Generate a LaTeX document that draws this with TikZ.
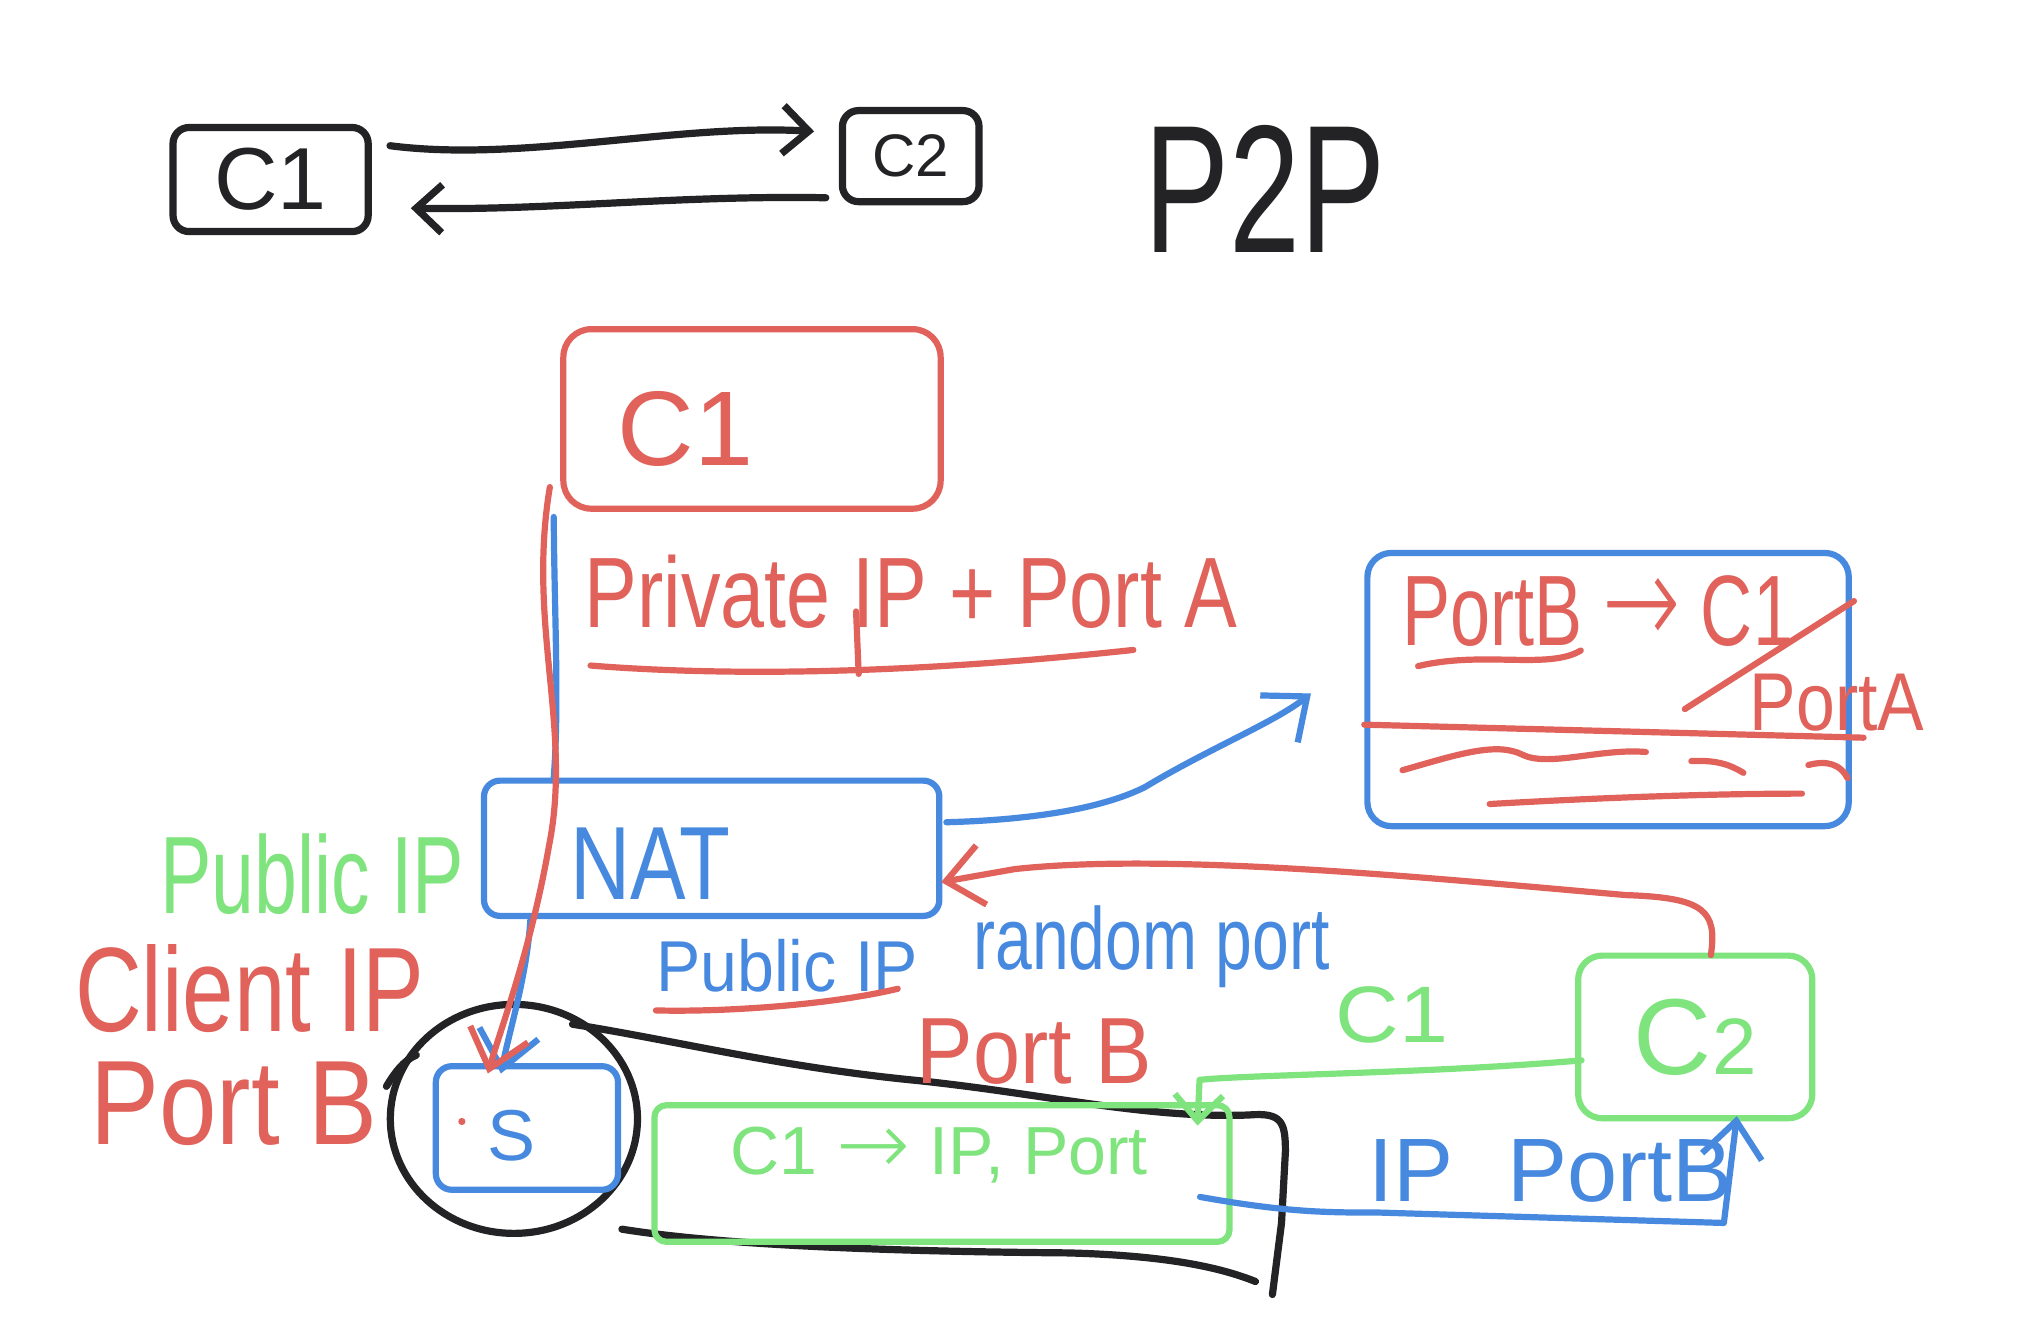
\documentclass[tikz,border=0pt]{standalone}
\usepackage{fontspec}
\setmainfont{Liberation Sans}
\newfontfamily\arrowfont{DejaVu Sans ExtraLight}
\usetikzlibrary{arrows.meta,calc,shapes.geometric}
\definecolor{pred}{HTML}{E0625B}
\definecolor{pblue}{HTML}{4689DF}
\definecolor{pgreen}{HTML}{80E47E}
\definecolor{pblack}{HTML}{232326}
\newdimen\U \U=0.65pt
\newcommand{\hw}[3]{\scalebox{#2}[1]{\fontsize{#1}{#1}\selectfont #3}}
\newcommand{\harr}{{\arrowfont\scalebox{1.3}{→}}}
\begin{document}
\begin{tikzpicture}[x=0.65pt,y=-0.65pt, line cap=round, line join=round,
  pen/.style={line width=3.1pt},
  bpen/.style={line width=3.6pt},
  box/.style={pen, draw, rounded corners=8pt, inner sep=0pt},
  txt/.style={inner sep=0pt},
  arr/.style={-{Straight Barb[length=18pt,width=30pt]}},
  sarr/.style={-{Straight Barb[length=13pt,width=24pt]}}]
\fill[white] (0,0) rectangle (1568,1021);
\useasboundingbox (0,0) rectangle (1568,1021);

% ---------- top: P2P ----------
\node[box, bpen, pblack, minimum width=150\U, minimum height=80\U] (c1s) at (208,138) {\hw{44}{1}{C1}};
\node[box, bpen, pblack, minimum width=105\U, minimum height=70\U] (c2s) at (700,120) {\hw{30}{1}{C2}};
\draw[pblack, bpen, sarr] ($(c1s.east)+(14,-26)$) .. controls (400,125) and (520,95) .. ($(c2s.west)+(-19,-19)$);
\draw[pblack, bpen, sarr] ($(c2s.west)+(-10,32)$) .. controls (520,150) and (420,162) .. ($(c1s.east)+(30,22)$);
\node[txt, pblack] (p2p) at (972,145) {\hw{91}{0.7}{P2P}};

% ---------- C1 (red) ----------
\node[box, pred, rounded corners=14pt, minimum width=290\U, minimum height=138\U] (c1) at (578,322) {};
\node[txt, pred] (c1t) at (527,330) {\hw{53}{1}{C1}};
\node[txt, pred] (priv) at (700,455) {\hw{50}{0.79}{Private IP + Port A}};
\draw[pred, pen] ($(priv.south west)+(5,28)$) .. controls (560,520) and (700,518) .. ($(priv.south east)+(-80,16)$);
\draw[pred, pen] (658,470) -- (660,518);

% ---------- NAT (blue) ----------
\node[box, pblue, minimum width=350\U, minimum height=104\U] (nat) at (547,652) {};
\node[txt, pblue] (natt) at (500,664) {\hw{52}{0.8}{NAT}};

% ---------- S and black enclosure ----------
\node[draw, pblack, bpen, ellipse, minimum width=190\U, minimum height=176\U] (sgrp) at (395,860) {};
\node[box, pblue, minimum width=140\U, minimum height=95\U] (s) at (405,867) {};
\node[txt, pblue] (st) at (393,873) {\hw{36}{1}{S}};
\fill[pred] (355,862) circle (1.8pt);
\draw[pblack, bpen] ($(sgrp.north)+(45,18)$) .. controls (520,800) and (600,820) .. (700,830)
   .. controls (800,840) and (880,860) .. (960,857)
   .. controls (985,855) and (988,862) .. (988,885) -- (985,940) -- (978,995);
\draw[pblack, bpen] ($(sgrp.south)+(83,-6)$) .. controls (560,958) and (700,962) .. (820,963)
   .. controls (900,965) and (940,975) .. (965,985);
\draw[pblack, bpen] (297,835) .. controls (303,825) and (310,815) .. (320,811);

% ---------- connectors C1 -> NAT -> S ----------
\draw[pblue, pen] ($(c1.south west)+(-5,4)$) .. controls (426,470) and (430,540) .. ($(nat.north west)+(56,0)$);
\draw[pblue, pen, arr] ($(nat.south west)+(38,1)$) .. controls (405,750) and (392,790) .. ($(s.north)+(-20,8)$);
\draw[pred, pen, arr] ($(c1.south west)+(-8,-19)$) .. controls (405,480) and (440,560) .. (422,650)
   .. controls (408,730) and (385,790) .. ($(s.north)+(-30,8)$);

% ---------- labels on the left ----------
\node[txt, pgreen] (pubg) at (240,672) {\hw{55}{0.7}{Public IP}};
\node[txt, pred] (cli) at (192,760) {\hw{60}{0.77}{Client IP}};
\node[txt, pred] (pbl) at (180,848) {\hw{60}{0.86}{Port B}};

% ---------- right table box ----------
\node[box, pblue, rounded corners=12pt, minimum width=370\U, minimum height=210\U] (rb) at (1236,530) {};
\node[txt, pred] (pbc) at (1228,470) {\hw{50}{0.72}{PortB \harr\ C1}};
\node[txt, pred] (pa) at (1412,540) {\hw{41}{0.85}{PortA}};
\draw[pred, pen] (1090,512) .. controls (1140,500) and (1190,515) .. (1215,500);
\draw[pred, pen] (1295,545) -- (1425,462);
\draw[pred, pen] ($(rb.west)+(0,27)$) -- ($(rb.east)+(9,37)$);
\draw[pred, pen] (1078,592) .. controls (1120,580) and (1150,570) .. (1170,580)
   .. controls (1190,590) and (1230,575) .. (1265,578);
\draw[pred, pen] (1300,585) .. controls (1320,584) and (1330,588) .. (1340,594);
\draw[pred, pen] (1390,588) .. controls (1405,584) and (1415,588) .. (1420,598);
\draw[pred, pen] (1145,618) .. controls (1250,612) and (1330,610) .. (1385,610);

\draw[pblue, pen, arr] ($(nat.east)+(3,-20)$) .. controls (800,630) and (850,620) .. (880,605)
   .. controls (930,575) and (980,555) .. ($(rb.west)+(-41,3)$);

% ---------- middle labels ----------
\node[txt, pblue] (pubb) at (605,742) {\hw{36}{0.92}{Public IP}};
\draw[pred, pen] ($(pubb.south west)+(0,14)$) .. controls (560,778) and (640,772) .. (690,760);
\node[txt, pblue] (rnd) at (885,728) {\hw{44}{0.75}{random port}};
\node[txt, pred] (pbm) at (795,808) {\hw{47}{0.9}{Port B}};
\node[txt, pgreen] (c1g) at (1070,780) {\hw{40}{1.1}{C1}};

% ---------- C2 (green) and green table ----------
\node[box, pgreen, rounded corners=12pt, minimum width=180\U, minimum height=125\U] (c2) at (1303,797) {\hw{54}{1}{C{\fontsize{40}{40}\selectfont 2}}};
\node[box, pgreen, rounded corners=6pt, minimum width=442\U, minimum height=105\U] (gb) at (724,902) {};
\node[txt, pgreen] (gbt) at (722,888) {\hw{34}{1}{C1 \harr\ IP, Port}};

\draw[pred, pen, arr] ($(c2.north)+(12,2)$) .. controls (1320,700) and (1310,690) .. (1250,688)
   .. controls (1100,675) and (900,655) .. (780,668) -- ($(nat.east)+(-1,26)$);
\draw[pgreen, pen, sarr] ($(c2.west)+(5,18)$) .. controls (1100,825) and (960,826) .. (922,830) -- ($(gb.north east)+(-27,18)$);
\draw[pblue, pen, arr] ($(gb.east)+(-25,18)$) .. controls (990,932) and (1020,932) .. (1060,932) -- (1325,940) -- ($(c2.south)+(32,-4)$);
\node[txt, pblue] (ippb) at (1192,900) {\hw{45}{1}{IP\hspace{0.6em}PortB}};
\end{tikzpicture}
\end{document}
